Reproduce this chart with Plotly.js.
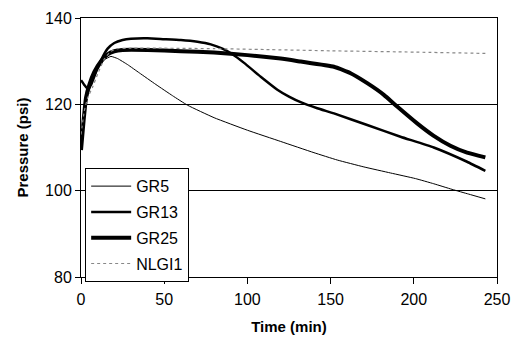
<!DOCTYPE html>
<html>
<head>
<meta charset="utf-8">
<script src="https://cdn.plot.ly/plotly-3.0.1.min.js"></script>
<style>html,body{margin:0;padding:0;background:#fff;}#chart{width:514px;height:339px;}</style>
</head>
<body>
<div id="chart"></div>
<script>
// Data
const seriesNames = ["GR5", "GR13", "GR25", "NLGI1"];

const gr5Time = [0, 2, 4, 7, 10, 14, 18, 22, 28, 35, 45, 55, 64, 80, 100, 120, 140, 154, 170, 186, 201, 212, 223, 233, 243];
const gr5Pressure = [111, 118, 122, 125.5, 128, 130.3, 131.1, 130.6, 129.2, 127.3, 124.6, 122.0, 119.8, 116.9, 114.0, 111.4, 108.8, 107.1, 105.5, 104.1, 102.8, 101.6, 100.3, 99.2, 98.1];

const gr13Time = [0, 2, 4, 6, 9, 12, 16, 20, 25, 30, 40, 50, 60, 70, 78, 85, 91, 98, 108, 118, 125, 132, 142, 152, 172, 192, 212, 232, 243];
const gr13Pressure = [125.6, 124.5, 123.6, 124.5, 127.5, 130.2, 132.9, 134.2, 134.9, 135.2, 135.3, 135.1, 134.9, 134.5, 133.9, 132.9, 131.6, 129.6, 126.4, 123.4, 121.8, 120.5, 119.1, 117.9, 115.2, 112.5, 110.0, 106.7, 104.6];

const gr25Time = [0, 1.5, 3, 5, 8, 12, 16, 20, 25, 40, 60, 80, 100, 120, 132, 152, 162, 172, 182, 190, 202, 212, 222, 232, 243];
const gr25Pressure = [109.4, 116, 121.5, 124.5, 127.5, 130, 131.6, 132.3, 132.6, 132.6, 132.3, 132.0, 131.4, 130.6, 129.9, 128.7, 127.2, 124.9, 122.2, 119.5, 115.6, 112.7, 110.4, 108.8, 107.7];

const nlgiTime = [0, 2, 4, 7, 10, 14, 18, 22, 30, 50, 80, 110, 150, 200, 243];
const nlgiPressure = [113, 118.5, 121.5, 124, 127, 130.5, 132.3, 132.9, 133, 133, 132.9, 132.7, 132.4, 132.1, 131.8];

const xTicks = [0, 50, 100, 150, 200, 250];
const yTicks = [80, 100, 120, 140];

const font = "Liberation Sans, Arial, sans-serif";

const traces = [
  {x: gr5Time, y: gr5Pressure, name: seriesNames[0], legendgroup: "a", mode: "lines", line: {color: "#000", width: 1, shape: "spline", smoothing: 0.4}},
  {x: gr13Time, y: gr13Pressure, name: seriesNames[1], legendgroup: "b", mode: "lines", line: {color: "#000", width: 2.5, shape: "spline", smoothing: 0.4}},
  {x: gr25Time, y: gr25Pressure, name: seriesNames[2], legendgroup: "c", mode: "lines", line: {color: "#000", width: 4, shape: "spline", smoothing: 0.4}},
  {x: nlgiTime, y: nlgiPressure, name: seriesNames[3], legendgroup: "d", mode: "lines", line: {color: "#888", width: 1.2, dash: "dot", shape: "spline", smoothing: 0.4}}
];

const layout = {
  width: 514, height: 339,
  margin: {l: 81, r: 17, t: 18, b: 62},
  paper_bgcolor: "#fff", plot_bgcolor: "#fff",
  font: {family: font, size: 16, color: "#000"},
  showlegend: true,
  legend: {
    x: 0.01, y: 0.42, xanchor: "left", yanchor: "top",
    bgcolor: "#fff", bordercolor: "#000", borderwidth: 1,
    font: {family: font, size: 16, color: "#000"},
    tracegroupgap: 2, itemwidth: 40
  },
  xaxis: {
    range: [0, 250], tickvals: xTicks, ticktext: xTicks.map(String),
    showgrid: false, zeroline: false,
    showline: true, linecolor: "#000", linewidth: 1, mirror: true,
    ticks: "outside", ticklen: 6, tickcolor: "#000", ticklabelstandoff: 2,
    tickfont: {family: font, size: 16},
    title: {text: "<b>Time (min)</b>", font: {family: font, size: 15}, standoff: 14}
  },
  yaxis: {
    range: [80, 140], tickvals: yTicks, ticktext: yTicks.map(String),
    showgrid: true, gridcolor: "#000", gridwidth: 1, zeroline: false,
    showline: true, linecolor: "#000", linewidth: 1, mirror: true,
    ticks: "outside", ticklen: 5, tickcolor: "#000",
    tickfont: {family: font, size: 16},
    title: {text: "<b>Pressure (psi)</b>", font: {family: font, size: 15}, standoff: 12}
  }
};

Plotly.newPlot("chart", traces, layout, {displayModeBar: false, staticPlot: true});
</script>
</body>
</html>
